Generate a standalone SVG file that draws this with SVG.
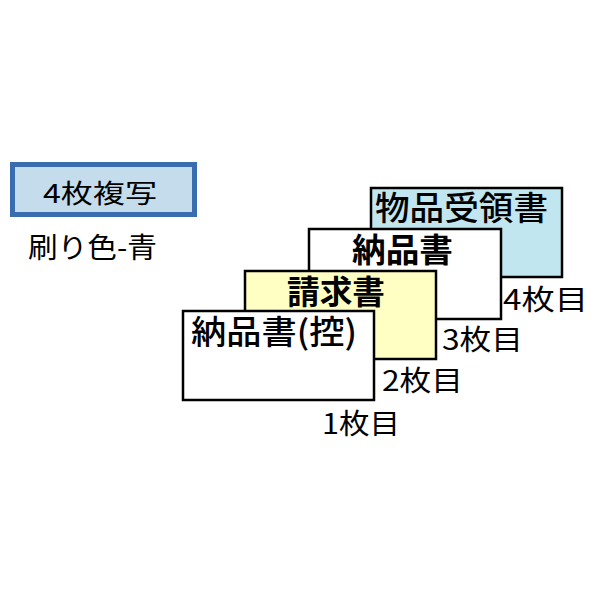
<svg xmlns="http://www.w3.org/2000/svg" width="598" height="598" viewBox="0 0 598 598">
<style>
text{font-family:"Noto Sans CJK JP","Noto Sans CJK SC",sans-serif;fill:#000}
.sheet{stroke:#000;stroke-width:2.5}
.big{font-size:33px;font-weight:500}
.bold{font-weight:700}
.lbl{font-size:28px}
</style>
<rect width="598" height="598" fill="#fff"/>
<g id="title">
<rect x="12.5" y="164.5" width="182" height="50" fill="#c4dcec" stroke="#3a6cb0" stroke-width="5"/>
<text x="100" y="203" font-size="26" text-anchor="middle" textLength="114" lengthAdjust="spacingAndGlyphs">4枚複写</text>
</g>
<g id="color">
<text x="28" y="258" font-size="28" textLength="129" lengthAdjust="spacingAndGlyphs">刷り色-青</text>
</g>
<g id="sheet4">
<rect class="sheet" x="371" y="188" width="191" height="89" fill="#c2e6f0"/>
<text class="big" x="375" y="220" textLength="173" lengthAdjust="spacingAndGlyphs">物品受領書</text>
<text class="lbl" x="503" y="310" textLength="85" lengthAdjust="spacingAndGlyphs">4枚目</text>
</g>
<g id="sheet3">
<rect class="sheet" x="309" y="229" width="192" height="90" fill="#fff"/>
<text class="big bold" x="352" y="262" textLength="101" lengthAdjust="spacingAndGlyphs">納品書</text>
<text class="lbl" x="442" y="350" textLength="81" lengthAdjust="spacingAndGlyphs">3枚目</text>
</g>
<g id="sheet2">
<rect class="sheet" x="245" y="271" width="191" height="88" fill="#ffffc4"/>
<text class="big bold" x="287" y="304" textLength="98" lengthAdjust="spacingAndGlyphs">請求書</text>
<text class="lbl" x="382" y="391" textLength="81" lengthAdjust="spacingAndGlyphs">2枚目</text>
</g>
<g id="sheet1">
<rect class="sheet" x="183" y="311" width="191" height="89" fill="#fff"/>
<text class="big" x="191" y="344" textLength="166" lengthAdjust="spacingAndGlyphs">納品書(控)</text>
<text class="lbl" x="322" y="434" textLength="78" lengthAdjust="spacingAndGlyphs">1枚目</text>
</g>
<g id="connectors"/>
</svg>
